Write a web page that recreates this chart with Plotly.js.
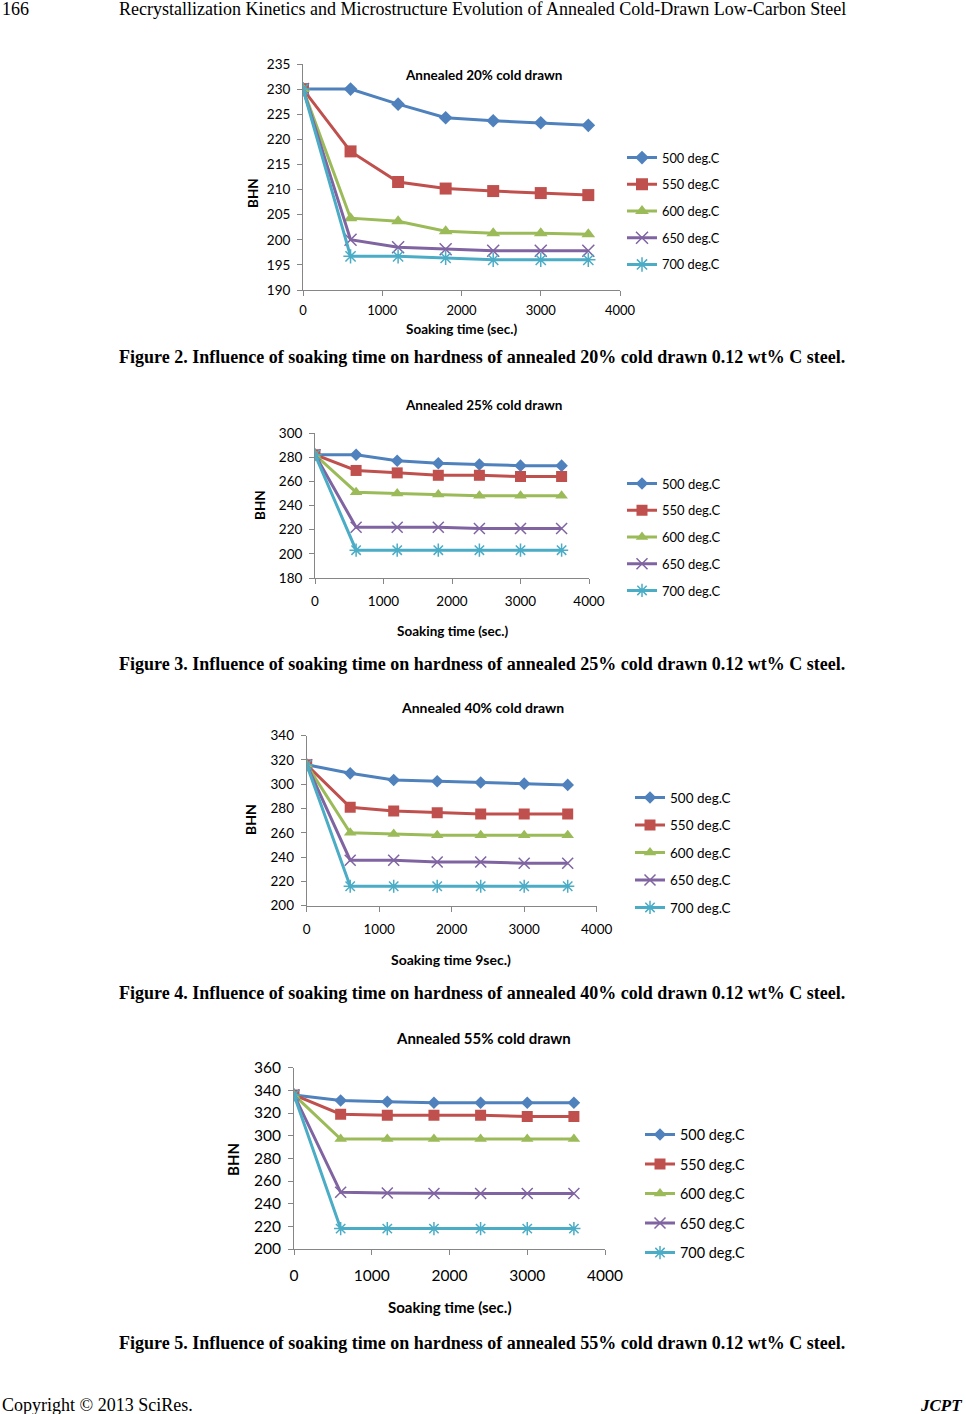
<!DOCTYPE html>
<html>
<head>
<meta charset="utf-8">
<script src="https://cdn.plot.ly/plotly-3.0.1.min.js"></script>
<style>
html,body{margin:0;padding:0;background:#fff;}
#chart{width:966px;height:1414px;}
</style>
</head>
<body>
<div id="chart"></div>
<script>
// ---------------- data ----------------
const soakTime = [0, 600, 1200, 1800, 2400, 3000, 3600];
const tempLabels = ['500 deg.C', '550 deg.C', '600 deg.C', '650 deg.C', '700 deg.C'];

const h20_500 = [230, 230, 227, 224.3, 223.7, 223.3, 222.8];
const h20_550 = [230, 217.6, 211.5, 210.2, 209.7, 209.3, 208.9];
const h20_600 = [230, 204.3, 203.7, 201.7, 201.3, 201.3, 201.1];
const h20_650 = [230, 200, 198.5, 198.1, 197.8, 197.8, 197.8];
const h20_700 = [230, 196.7, 196.7, 196.4, 196, 196, 196];

const h25_500 = [282, 282, 277, 275, 274, 273, 273];
const h25_550 = [282, 269, 267, 265, 265, 264, 264];
const h25_600 = [282, 251, 250, 249, 248, 248, 248];
const h25_650 = [282, 222, 222, 222, 221, 221, 221];
const h25_700 = [282, 203, 203, 203, 203, 203, 203];

const h40_500 = [316, 309, 303.5, 302.5, 301.5, 300.5, 299.5];
const h40_550 = [316, 281, 278, 276.5, 275.5, 275.5, 275.5];
const h40_600 = [316, 260, 259, 258, 258, 258, 258];
const h40_650 = [316, 237.5, 237.5, 236, 236, 235, 235];
const h40_700 = [316, 216, 216, 216, 216, 216, 216];

const h55_500 = [336, 331, 330, 329, 329, 329, 329];
const h55_550 = [336, 319, 318, 318, 318, 317, 317];
const h55_600 = [336, 297, 297, 297, 297, 297, 297];
const h55_650 = [336, 250, 249.5, 249, 249, 249, 249];
const h55_700 = [336, 218, 218, 218, 218, 218, 218];

const chartTitles = ['Annealed 20% cold drawn', 'Annealed 25% cold drawn', 'Annealed 40% cold drawn', 'Annealed 55% cold drawn'];
const xTitles = ['Soaking time (sec.)', 'Soaking time (sec.)', 'Soaking time 9sec.)', 'Soaking time (sec.)'];
const yTitle = 'BHN';
const captions = [
  'Figure 2. Influence of soaking time on hardness of annealed 20% cold drawn 0.12 wt% C steel.',
  'Figure 3. Influence of soaking time on hardness of annealed 25% cold drawn 0.12 wt% C steel.',
  'Figure 4. Influence of soaking time on hardness of annealed 40% cold drawn 0.12 wt% C steel.',
  'Figure 5. Influence of soaking time on hardness of annealed 55% cold drawn 0.12 wt% C steel.'
];
const headerPage = '166';
const headerTitle = 'Recrystallization Kinetics and Microstructure Evolution of Annealed Cold-Drawn Low-Carbon Steel';
const footerLeft = 'Copyright © 2013 SciRes.';
const footerRight = 'JCPT';

const yRanges = [[190, 235], [180, 300], [200, 340], [200, 360]];
const yDticks = [5, 20, 20, 20];
const seriesSets = [
  [h20_500, h20_550, h20_600, h20_650, h20_700],
  [h25_500, h25_550, h25_600, h25_650, h25_700],
  [h40_500, h40_550, h40_600, h40_650, h40_700],
  [h55_500, h55_550, h55_600, h55_650, h55_700]
];

// ---------------- styling ----------------
const W = 966, H = 1414;
const px = v => v / W;
const py = v => 1 - v / H;
const colors = ['#4F81BD', '#C0504D', '#9BBB59', '#8064A2', '#4BACC6'];
const symbols = ['diamond', 'square', 'triangle-up', 'x-thin-open', 'asterisk-open'];
const symbolScale = [0.88, 1, 1, 1, 1];
const FONT = 'Lato, "Open Sans", sans-serif';
const SERIF = '"Liberation Serif", "DejaVu Serif", serif';

// layout geometry per chart (pixel positions)
const geo = [
  {x0: 303, x1: 620, yt: 64, yb: 290, fs: 13.5, xfs: 13, tfs: 13.5, xstand: 3, titleX: 483, titleY: 75, xtX: 461, xtY: 329, ytX: 253, ytY: 193, legX: 622, legY: 142.7, legGap: 7.1, legFs: 12.8, ms: 12},
  {x0: 315, x1: 589, yt: 433, yb: 578, fs: 13.5, xfs: 13.5, tfs: 13.5, xstand: 6, titleX: 483, titleY: 405, xtX: 452, xtY: 631, ytX: 260, ytY: 505, legX: 622, legY: 468.5, legGap: 6.85, legFs: 13, ms: 11},
  {x0: 306.7, x1: 596.7, yt: 735.7, yb: 905.7, fs: 13.5, xfs: 13.5, tfs: 14, xstand: 6, titleX: 482, titleY: 707, xtX: 451, xtY: 959, ytX: 250, ytY: 820, legX: 630, legY: 782.2, legGap: 6.95, legFs: 13.5, ms: 11},
  {x0: 294, x1: 605, yt: 1067.7, yb: 1249, fs: 15.5, xfs: 15.5, tfs: 15, xstand: 7, titleX: 483, titleY: 1038, xtX: 450, xtY: 1307, ytX: 233, ytY: 1160, legX: 640, legY: 1118.6, legGap: 7.8, legFs: 14.4, ms: 11}
];

const traces = [];
const layout = {
  width: W, height: H,
  margin: {l: 0, r: 0, t: 0, b: 0},
  paper_bgcolor: '#fff', plot_bgcolor: 'rgba(0,0,0,0)',
  font: {family: FONT, color: '#000'},
  annotations: [],
  showlegend: true
};

seriesSets.forEach((set, c) => {
  const g = geo[c];
  const sfx = c === 0 ? '' : String(c + 1);
  const legName = 'legend' + sfx;
  set.forEach((vals, i) => {
    traces.push({
      type: 'scatter', mode: 'lines+markers',
      x: soakTime, y: vals, name: tempLabels[i],
      xaxis: 'x' + sfx, yaxis: 'y' + sfx,
      legend: legName, legendgroup: 'c' + c + 's' + i,
      line: {color: colors[i], width: 3},
      marker: {symbol: symbols[i], size: g.ms * symbolScale[i], color: colors[i], line: {color: colors[i], width: i >= 3 ? 1.5 : 0}}
    });
  });
  const axCommon = {
    showline: true, linecolor: '#868686', linewidth: 1,
    ticks: 'outside', tickcolor: '#868686', ticklen: 5,
    showgrid: false, zeroline: false,
    fixedrange: true
  };
  layout['xaxis' + sfx] = Object.assign({}, axCommon, {
    domain: [px(g.x0), px(g.x1)], range: [0, 4000], dtick: 1000, tick0: 0,
    anchor: 'y' + sfx, ticklabelstandoff: g.xstand,
    tickfont: {family: FONT, size: g.xfs, color: '#000'}
  });
  layout['yaxis' + sfx] = Object.assign({}, axCommon, {
    domain: [py(g.yb), py(g.yt)], range: yRanges[c], dtick: yDticks[c], tick0: 0,
    anchor: 'x' + sfx, ticklabelstandoff: 4,
    tickfont: {family: FONT, size: g.fs, color: '#000'}
  });
  layout[legName] = {
    x: px(g.legX), y: py(g.legY), xanchor: 'left', yanchor: 'top',
    font: {family: FONT, size: g.legFs, color: '#000'},
    bgcolor: 'rgba(0,0,0,0)', borderwidth: 0,
    tracegroupgap: g.legGap, traceorder: 'grouped', itemwidth: 30
  };
  layout.annotations.push(
    {text: '<b>' + chartTitles[c] + '</b>', x: px(g.titleX), y: py(g.titleY), xref: 'paper', yref: 'paper', showarrow: false, xanchor: 'center', yanchor: 'middle', font: {family: FONT, size: g.tfs, color: '#000'}},
    {text: '<b>' + xTitles[c] + '</b>', x: px(g.xtX), y: py(g.xtY), xref: 'paper', yref: 'paper', showarrow: false, xanchor: 'center', yanchor: 'middle', font: {family: FONT, size: g.tfs, color: '#000'}},
    {text: '<b>' + yTitle + '</b>', x: px(g.ytX), y: py(g.ytY), xref: 'paper', yref: 'paper', showarrow: false, textangle: -90, xanchor: 'center', yanchor: 'middle', font: {family: FONT, size: g.tfs, color: '#000'}}
  );
});

// page text
const capY = [357, 664, 993, 1343];
captions.forEach((t, i) => {
  layout.annotations.push({text: '<b>' + t + '</b>', x: px(482), y: py(capY[i]), xref: 'paper', yref: 'paper', showarrow: false, xanchor: 'center', yanchor: 'middle', font: {family: SERIF, size: 18, color: '#000'}});
});
layout.annotations.push(
  {text: headerPage, x: px(0), y: py(9), xref: 'paper', yref: 'paper', showarrow: false, xanchor: 'left', yanchor: 'middle', font: {family: SERIF, size: 18, color: '#000'}},
  {text: headerTitle, x: px(482), y: py(9), xref: 'paper', yref: 'paper', showarrow: false, xanchor: 'center', yanchor: 'middle', font: {family: SERIF, size: 18, color: '#000'}},
  {text: footerLeft, x: px(0), y: py(1405), xref: 'paper', yref: 'paper', showarrow: false, xanchor: 'left', yanchor: 'middle', font: {family: SERIF, size: 18, color: '#000'}},
  {text: '<b><i>' + footerRight + '</i></b>', x: px(964), y: py(1405), xref: 'paper', yref: 'paper', showarrow: false, xanchor: 'right', yanchor: 'middle', font: {family: SERIF, size: 17, color: '#000'}}
);

Plotly.newPlot('chart', traces, layout, {displayModeBar: false, staticPlot: true});
</script>
</body>
</html>
